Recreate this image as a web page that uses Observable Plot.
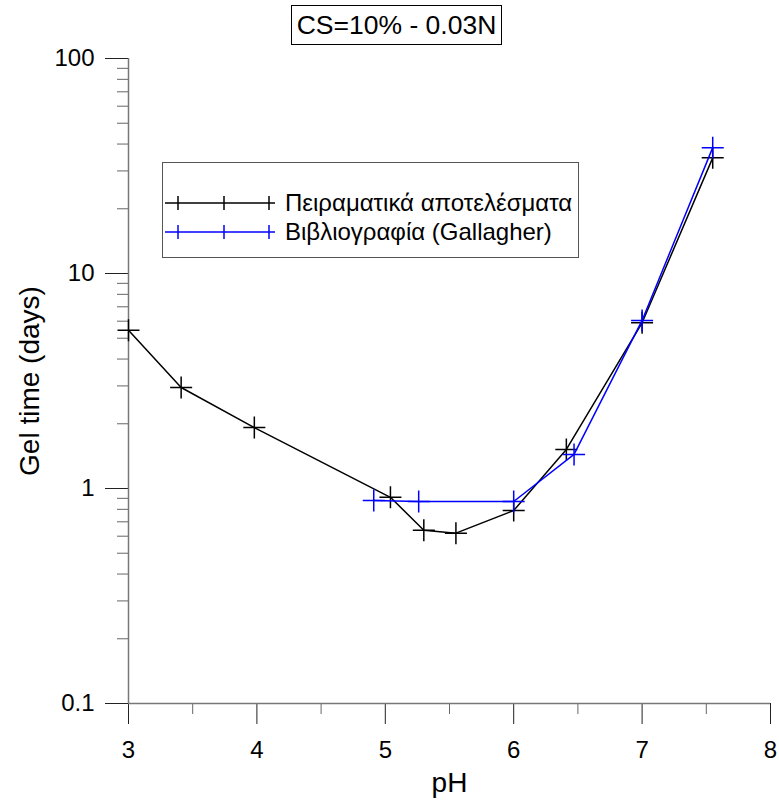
<!DOCTYPE html>
<html><head><meta charset="utf-8">
<script src="https://cdn.jsdelivr.net/npm/d3@7"></script>
<script src="https://cdn.jsdelivr.net/npm/@observablehq/plot@0.6"></script>
<style>
body{margin:0;background:#fff;font-family:"Liberation Sans",Arial,sans-serif;}
#wrap{position:relative;width:779px;height:800px;}
#title{position:absolute;left:291px;top:5px;width:211px;height:40px;border:1px solid #000;box-sizing:border-box;font-size:26.5px;line-height:38px;text-align:center;white-space:nowrap;}
#legend{position:absolute;left:162px;top:162px;width:417px;height:96px;border:1.5px solid #555;box-sizing:border-box;background:#fff;}
</style></head>
<body><div id="wrap"><div id="chart"></div><div id="title"></div><div id="legend"></div></div>
<script>
const titleText = "CS=10% - 0.03N";
const xLabel = "pH";
const yLabel = "Gel time (days)";
const seriesNames = ["Πειραματικά αποτελέσματα", "Βιβλιογραφία (Gallagher)"];
const seriesColors = ["#000000", "#0000ff"];

const pHExp  = [3.0, 3.41, 3.98, 5.04, 5.30, 5.55, 6.0, 6.41, 7.0, 7.55];
const gelExp = [5.45, 2.95, 1.92, 0.91, 0.64, 0.62, 0.79, 1.52, 5.9, 34.5];
const pHLit  = [4.91, 5.26, 6.0, 6.47, 7.0, 7.55];
const gelLit = [0.88, 0.87, 0.87, 1.44, 6.05, 38.5];

const xMajor = [3, 4, 5, 6, 7, 8];
const xMinor = [3.5, 4.5, 5.5, 6.5, 7.5];
const yMajor = [0.1, 1, 10, 100];
const yMajorLabels = ["0.1", "1", "10", "100"];
const yMinor = [0.2,0.3,0.4,0.5,0.6,0.7,0.8,0.9,2,3,4,5,6,7,8,9,20,30,40,50,60,70,80,90];

const exp = pHExp.map((x, i) => ({x, y: gelExp[i]}));
const lit = pHLit.map((x, i) => ({x, y: gelLit[i]}));

const plus = {draw(ctx, size){ const r = Math.sqrt(size / Math.PI); ctx.moveTo(-r,0); ctx.lineTo(r,0); ctx.moveTo(0,-r); ctx.lineTo(0,r); }};

const font = "Liberation Sans, Arial, sans-serif";
const chart = Plot.plot({
  width: 779, height: 800,
  marginTop: 58, marginBottom: 97, marginLeft: 128, marginRight: 9,
  style: {fontFamily: font, fontSize: "24px", background: "#fff", overflow: "visible"},
  x: {domain: [3, 8]},
  y: {type: "log", domain: [0.1, 100]},
  marks: [
    Plot.axisX(xMinor, {tickSize: 11, tickFormat: null, text: null, stroke: "#666", label: null}),
    Plot.axisX(xMajor, {tickSize: 21, tickPadding: 16, fontSize: 24, stroke: "#222", label: null, tickFormat: d => String(d)}),
    Plot.axisY(yMinor, {tickSize: 11, text: null, stroke: "#666", label: null}),
    Plot.axisY(yMajor, {tickSize: 23, tickPadding: 11, fontSize: 24, stroke: "#222", label: null, tickFormat: d => yMajorLabels[yMajor.indexOf(d)]}),
    Plot.ruleY([0.1], {stroke: "#777", strokeWidth: 1.5}),
    Plot.ruleX([3], {stroke: "#777", strokeWidth: 1.5}),
    Plot.line(exp, {x: "x", y: "y", stroke: seriesColors[0], strokeWidth: 1.5}),
    Plot.dot(exp, {x: "x", y: "y", symbol: plus, r: 11, stroke: seriesColors[0], strokeWidth: 1.5, fill: "none"}),
    Plot.line(lit, {x: "x", y: "y", stroke: seriesColors[1], strokeWidth: 1.5}),
    Plot.dot(lit, {x: "x", y: "y", symbol: plus, r: 11, stroke: seriesColors[1], strokeWidth: 1.5, fill: "none"}),
    Plot.text([xLabel], {frameAnchor: "bottom", lineAnchor: "middle", dy: 80, text: d => d, fontSize: 28}),
    Plot.text([yLabel], {frameAnchor: "left", textAnchor: "middle", lineAnchor: "middle", dx: -98, rotate: -90, text: d => d, fontSize: 28})
  ]
});
document.getElementById("chart").appendChild(chart);
document.getElementById("title").textContent = titleText;

// legend
const ns = "http://www.w3.org/2000/svg";
const lg = document.getElementById("legend");
const svg = document.createElementNS(ns, "svg");
svg.setAttribute("width", 414); svg.setAttribute("height", 93);
svg.style.position = "absolute"; svg.style.left = "0"; svg.style.top = "0";
seriesNames.forEach((name, i) => {
  const cy = 40 + i * 29;
  const g = document.createElementNS(ns, "g");
  g.setAttribute("stroke", seriesColors[i]); g.setAttribute("stroke-width", 1.5);
  const l = document.createElementNS(ns, "line");
  l.setAttribute("x1", 2); l.setAttribute("x2", 112); l.setAttribute("y1", cy); l.setAttribute("y2", cy);
  g.appendChild(l);
  [15, 61, 106].forEach(cx => {
    const v = document.createElementNS(ns, "line");
    v.setAttribute("x1", cx); v.setAttribute("x2", cx); v.setAttribute("y1", cy - 7); v.setAttribute("y2", cy + 7);
    g.appendChild(v);
  });
  svg.appendChild(g);
  const t = document.createElementNS(ns, "text");
  t.setAttribute("x", 122); t.setAttribute("y", cy); t.setAttribute("dy", "0.35em");
  t.setAttribute("font-size", 24); t.setAttribute("font-family", font);
  t.textContent = name;
  svg.appendChild(t);
});
lg.appendChild(svg);
</script></body></html>
